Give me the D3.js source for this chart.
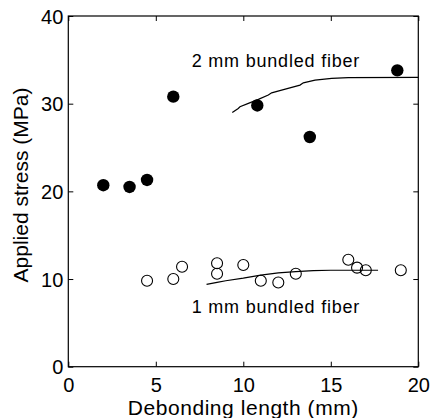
<!DOCTYPE html>
<html>
<head>
<meta charset="utf-8">
<script src="https://cdn.jsdelivr.net/npm/d3@7"></script>
<style>
  body { margin: 0; background: #fff; }
  text { font-family: "Liberation Sans", Arial, Helvetica, sans-serif; fill: #000; }
</style>
</head>
<body>
<svg id="chart"></svg>
<script>
// 2 mm bundled fiber (filled dots)
var fiber2X = [2, 3.5, 4.5, 6, 10.8, 13.8, 18.8]
var fiber2Y = [20.7, 20.5, 21.3, 30.8, 29.8, 26.2, 33.8]
// 1 mm bundled fiber (open circles)
var fiber1X = [4.5, 6, 6.5, 8.5, 8.5, 10, 11, 12, 13, 16, 16.5, 17, 19]
var fiber1Y = [9.8, 10.0, 11.4, 11.8, 10.6, 11.6, 9.8, 9.6, 10.6, 12.2, 11.3, 11.0, 11.0]
// model curves
var curve2X = [9.37, 9.71, 9.81, 10.29, 10.86, 11.43, 11.62, 12.19, 13.24, 13.43, 14.1, 15.05, 16.0, 20]
var curve2Y = [29.0, 29.46, 29.65, 30.03, 30.49, 30.98, 31.24, 31.55, 32.12, 32.38, 32.69, 32.89, 32.98, 33.0]
var curve1X = [7.9, 8.5, 9.0, 10.0, 11.0, 12.0, 13.0, 14.0, 15.0, 17.7]
var curve1Y = [9.4, 9.62, 9.8, 10.1, 10.45, 10.7, 10.85, 10.95, 11.0, 11.0]

var xTicks = [0, 5, 10, 15, 20]
var yTicks = [0, 10, 20, 30, 40]

var dimensions = {
  width: 431,
  height: 418,
  margin: { top: 16, bottom: 51.3, right: 12.7, left: 68.3 }
}

var svg = d3.select("#chart")
  .attr("width", dimensions.width)
  .attr("height", dimensions.height)

var xScale = d3.scaleLinear()
  .domain([0, 20])
  .range([dimensions.margin.left, dimensions.width - dimensions.margin.right])

var yScale = d3.scaleLinear()
  .domain([0, 40])
  .range([dimensions.height - dimensions.margin.bottom, dimensions.margin.top])

var x0 = xScale(0), x1 = xScale(20), y0 = yScale(0), y1 = yScale(40)

// inward ticks on all four sides (matlab style)
var xAxisGen = d3.axisBottom(xScale).tickValues(xTicks).tickSizeInner(-5).tickSizeOuter(0).tickPadding(11)
var xAxis = svg.append("g")
  .attr("transform", `translate(0,${y0})`)
  .call(xAxisGen)
xAxis.selectAll("text").style("font-size", "20px").attr("dy", "0.71em")

var yAxisGen = d3.axisLeft(yScale).tickValues(yTicks).tickSizeInner(-5).tickSizeOuter(0).tickPadding(5)
var yAxis = svg.append("g")
  .attr("transform", `translate(${x0},0)`)
  .call(yAxisGen)
yAxis.selectAll("text").style("font-size", "20px").attr("dy", "0.36em")

svg.append("g")
  .attr("transform", `translate(0,${y1})`)
  .call(d3.axisTop(xScale).tickValues(xTicks).tickSizeInner(-5).tickSizeOuter(0).tickFormat(""))
svg.append("g")
  .attr("transform", `translate(${x1},0)`)
  .call(d3.axisRight(yScale).tickValues(yTicks).tickSizeInner(-5).tickSizeOuter(0).tickFormat(""))

svg.selectAll(".domain").remove()
svg.selectAll(".tick line").attr("stroke", "#000")
svg.selectAll(".tick text").attr("font-family", null)

svg.append("rect")
  .attr("x", x0).attr("y", y1)
  .attr("width", x1 - x0).attr("height", y0 - y1)
  .attr("fill", "none").attr("stroke", "#000").attr("stroke-width", 1.2)

// curves
var line = d3.line()
  .x(d => xScale(d[0]))
  .y(d => yScale(d[1]))

svg.append("path")
  .datum(d3.zip(curve2X, curve2Y))
  .attr("d", line)
  .attr("fill", "none").attr("stroke", "#000").attr("stroke-width", 1.2)

svg.append("path")
  .datum(d3.zip(curve1X, curve1Y))
  .attr("d", line)
  .attr("fill", "none").attr("stroke", "#000").attr("stroke-width", 1.2)

// points
svg.append("g")
  .selectAll("circle")
  .data(d3.zip(fiber2X, fiber2Y))
  .enter().append("circle")
  .attr("cx", d => xScale(d[0]))
  .attr("cy", d => yScale(d[1]))
  .attr("r", 6.2)
  .attr("fill", "#000")

svg.append("g")
  .selectAll("circle")
  .data(d3.zip(fiber1X, fiber1Y))
  .enter().append("circle")
  .attr("cx", d => xScale(d[0]))
  .attr("cy", d => yScale(d[1]))
  .attr("r", 5.5)
  .attr("fill", "none")
  .attr("stroke", "#000")
  .attr("stroke-width", 1.1)

// annotations
svg.append("text")
  .attr("x", xScale(7.05)).attr("y", yScale(34.2))
  .style("font-size", "18px")
  .style("letter-spacing", "0.8px")
  .text("2 mm bundled fiber")

svg.append("text")
  .attr("x", xScale(7.05)).attr("y", yScale(6.15))
  .style("font-size", "18px")
  .style("letter-spacing", "0.8px")
  .text("1 mm bundled fiber")

// axis labels
svg.append("text")
  .attr("x", (x0 + x1) / 2).attr("y", 415)
  .attr("text-anchor", "middle")
  .style("font-size", "21px")
  .style("letter-spacing", "0.55px")
  .text("Debonding length (mm)")

svg.append("text")
  .attr("transform", `translate(28,185) rotate(-90)`)
  .attr("text-anchor", "middle")
  .style("font-size", "21px")
  .text("Applied stress (MPa)")
</script>
</body>
</html>
